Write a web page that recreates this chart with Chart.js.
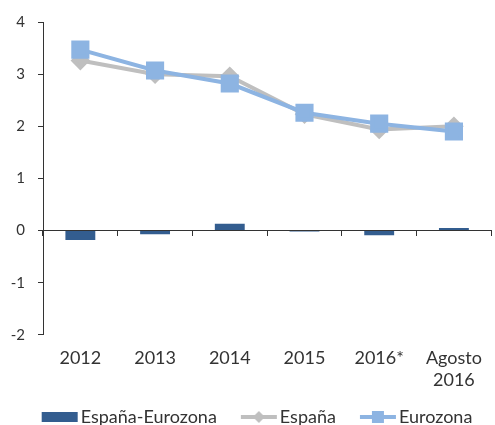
<html lang="es">
<head>
    <meta charset="UTF-8">
    <title>España vs Eurozona</title>
    <style>
        body { margin: 0; background: #fff; }
        .wrap { width: 495px; height: 425px; position: relative; }
    </style>
</head>
<body>
    <div class="wrap">
        <canvas id="grafico"></canvas>
    </div>

    <script src="https://cdn.jsdelivr.net/npm/chart.js"></script>
    <script>
        // datos
        const categorias = ['2012', '2013', '2014', '2015', '2016*', ['Agosto', '2016']];
        const diferencia = [-0.18, -0.07, 0.13, -0.02, -0.09, 0.05];
        const espana = [3.26, 3.00, 2.96, 2.23, 1.94, 2.00];
        const eurozona = [3.47, 3.07, 2.82, 2.26, 2.05, 1.90];
        const ticksY = [-2, -1, 0, 1, 2, 3, 4];

        const azulOscuro = '#335d8f';
        const gris = '#bfbfbf';
        const azulClaro = '#8db4e2';
        const texto = '#333333';

        // iconos de la leyenda (linea con marcador), desplazados a la derecha
        function icono(tipo, color) {
            const c = document.createElement('canvas');
            c.width = 80; c.height = 14;
            const ctx = c.getContext('2d');
            const x0 = 35;
            ctx.fillStyle = color;
            if (tipo === 'barra') {
                ctx.fillRect(x0, 2, 36, 10);
                return c;
            }
            ctx.strokeStyle = color;
            ctx.lineWidth = 4;
            ctx.beginPath();
            ctx.moveTo(x0, 7); ctx.lineTo(x0 + 36, 7);
            ctx.stroke();
            if (tipo === 'rombo') {
                ctx.beginPath();
                ctx.moveTo(x0 + 18, 1); ctx.lineTo(x0 + 24, 7); ctx.lineTo(x0 + 18, 13); ctx.lineTo(x0 + 12, 7);
                ctx.closePath();
                ctx.fill();
            } else {
                ctx.fillRect(x0 + 12, 1, 12, 12);
            }
            return c;
        }
        const iconos = [icono('barra', azulOscuro), icono('rombo', gris), icono('cuadrado', azulClaro)];

        new Chart(document.getElementById('grafico'), {
            data: {
                labels: categorias,
                datasets: [{
                    type: 'bar',
                    label: 'España-Eurozona',
                    data: diferencia,
                    backgroundColor: azulOscuro,
                    barPercentage: 0.4,
                    categoryPercentage: 1,
                    order: 2
                }, {
                    type: 'line',
                    label: 'España',
                    data: espana,
                    borderColor: gris,
                    backgroundColor: gris,
                    borderWidth: 4,
                    pointStyle: 'rectRot',
                    pointRadius: 7,
                    pointHoverRadius: 7,
                    tension: 0,
                    order: 1
                }, {
                    type: 'line',
                    label: 'Eurozona',
                    data: eurozona,
                    borderColor: azulClaro,
                    backgroundColor: azulClaro,
                    borderWidth: 4,
                    pointStyle: 'rect',
                    pointRadius: 10,
                    pointHoverRadius: 10,
                    tension: 0,
                    order: 0
                }]
            },
            options: {
                responsive: true,
                maintainAspectRatio: false,
                animation: false,
                layout: {
                    autoPadding: false,
                    padding: { top: 20, right: 1, left: 0, bottom: -11 }
                },
                scales: {
                    x: {
                        position: 'bottom',
                        border: { display: false },
                        grid: { display: false, drawTicks: false },
                        ticks: {
                            color: texto,
                            font: { family: 'Lato', size: 18, lineHeight: 1.2 },
                            padding: 13,
                            maxRotation: 0
                        }
                    },
                    x2: {
                        type: 'category',
                        labels: categorias,
                        position: { y: 0 },
                        offset: true,
                        border: { color: texto, width: 1 },
                        grid: {
                            offset: true,
                            drawOnChartArea: false,
                            drawTicks: true,
                            tickLength: 5,
                            color: texto
                        },
                        ticks: { display: false }
                    },
                    y: {
                        min: -2,
                        max: 4,
                        afterBuildTicks: axis => {
                            axis.ticks = ticksY.map(v => ({ value: v }));
                        },
                        afterFit: axis => {
                            axis.width = 43;
                        },
                        border: { color: texto, width: 1 },
                        grid: {
                            drawOnChartArea: false,
                            drawTicks: true,
                            tickLength: 5,
                            color: texto
                        },
                        ticks: {
                            color: texto,
                            font: { family: 'Lato', size: 15 },
                            padding: 13
                        }
                    }
                },
                plugins: {
                    tooltip: { enabled: false },
                    legend: {
                        position: 'bottom',
                        labels: {
                            usePointStyle: true,
                            pointStyleWidth: 50,
                            padding: 4,
                            color: texto,
                            font: { family: 'Lato', size: 18 },
                            generateLabels: chart => chart.data.datasets.map((ds, i) => ({
                                text: ds.label,
                                pointStyle: iconos[i],
                                fillStyle: 'transparent',
                                strokeStyle: 'transparent',
                                lineWidth: 0,
                                fontColor: texto,
                                hidden: false,
                                datasetIndex: i
                            }))
                        }
                    }
                }
            }
        });
    </script>
</body>
</html>
